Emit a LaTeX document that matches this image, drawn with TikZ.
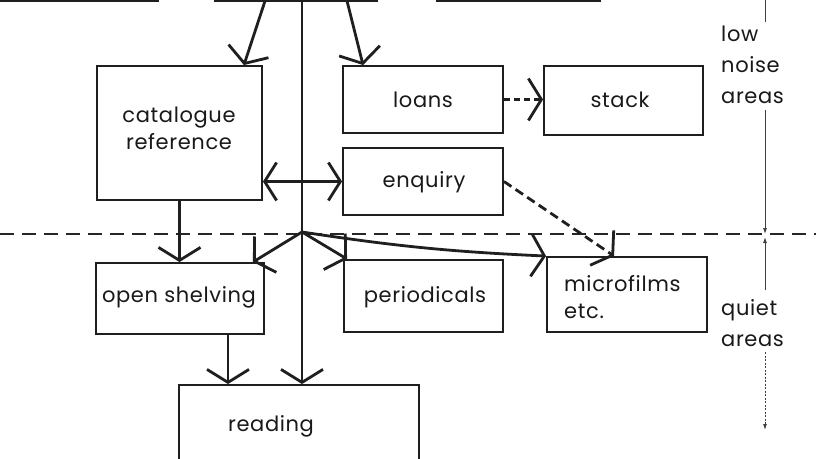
\documentclass[tikz,border=0pt]{standalone}
\usepackage{fontspec}
\setmainfont[LetterSpace=3]{Poppins}
\usetikzlibrary{arrows.meta,calc}

\begin{document}
\begin{tikzpicture}[x=1pt,y=-1pt,
  box/.style={draw=black!88, line width=1.9pt, rectangle, inner sep=0pt},
  lbl/.style={font=\fontsize{21}{27}\selectfont, text=black!90, align=center, inner sep=0pt},
  side/.style={font=\fontsize{21}{31}\selectfont, text=black!90, align=left, inner sep=0pt, anchor=west},
  barb/.style={-{Straight Barb[length=13pt,width=42pt,line width=2.8pt]}},
  flow/.style={line width=2.8pt, draw=black!88, barb},
  flow2/.style={line width=2.8pt, draw=black!88,
    {Straight Barb[length=12pt,width=38pt,line width=2.8pt]}-{Straight Barb[length=12pt,width=38pt,line width=2.8pt]}},
  dflow/.style={flow, dash pattern=on 9pt off 5pt},
  divider/.style={line width=1.3pt, draw=black!85, dash pattern=on 14pt off 8pt},
  dim/.style={line width=0.9pt, draw=black!75, -{Latex[length=6pt,width=4pt]}},
  dimplain/.style={line width=0.9pt, draw=black!75}
]
\useasboundingbox (0,0) rectangle (816,458);
\fill[white] (0,0) rectangle (816,458);
\clip (0,0) rectangle (816,458);

% boxes along the top edge
\node[box, minimum width=200pt, minimum height=60pt] (topL) at (58,-29) {};
\node[box, minimum width=162pt, minimum height=60pt] (topM) at (296,-29) {};
\node[box, minimum width=163pt, minimum height=60pt] (topR) at (518.5,-29) {};

% low noise areas
\node[box, minimum width=165pt, minimum height=134pt] (cat) at (179.5,133) {};
\node[box, minimum width=160pt, minimum height=67pt] (loans) at (423,99.5) {};
\node[box, minimum width=159pt, minimum height=69pt] (stack) at (623.5,100.5) {};
\node[box, minimum width=160pt, minimum height=67pt] (enq) at (423,181.5) {};

% quiet areas
\node[box, minimum width=168pt, minimum height=71pt] (open) at (180,298.5) {};
\node[box, minimum width=159pt, minimum height=72pt] (per) at (423.5,296) {};
\node[box, minimum width=160pt, minimum height=75pt] (mic) at (627,294.5) {};
\node[box, minimum width=240pt, minimum height=95pt] (read) at (299,432.5) {};

% box labels
\node[lbl] (tcat) at (179,128) {catalogue\\reference};
\node[lbl] (tloans) at (423,100) {loans};
\node[lbl] (tstack) at (620,100) {stack};
\node[lbl] (tenq) at (424,182) {enquiry};
\node[lbl] (topen) at (179,297) {open shelving};
\node[lbl] (tper) at (425,297) {periodicals};
\node[lbl, align=left, anchor=west] (tmic) at (564,297) {microfilms\\etc.};
\node[lbl] (tread) at (271,426) {reading};

% zone labels
\node[side] (lowlbl) at (721,65) {low\\noise\\areas};
\node[side] (quietlbl) at (721,323) {quiet\\areas};

% zone divider
\draw[divider] (0,234) -- (816,234);

% flows from the entrance box
\coordinate (tm1) at (265,1);
\coordinate (tm2) at (347,1);
\coordinate (spine) at (302,1);
\coordinate (hub) at (302,232);
\draw[flow] (tm1) -- ($(cat.north east)+(-19,0)$);
\draw[flow] (tm2) -- ($(loans.north west)+(21,0)$);
\draw[flow] (spine) -- (spine |- read.north);

\draw[flow2] (cat.east |- enq.west) -- (enq.west);
\draw[dflow, dash pattern=on 6pt off 4pt] (loans.east) -- (loans.east -| stack.west);
\draw[dflow] (enq.east) -- ($(mic.north west)+(68,0)$);

\draw[flow] (cat.south) -- (cat.south |- open.north);
\draw[flow] ($(open.south)+(48,0)$) coordinate (os) -- (os |- read.north);

\draw[flow] (hub) -- ($(open.north east)+(-12,0)$);
\draw[flow] (hub) -- ($(per.north west)+(4,0)$);
\draw[flow] (hub) to[bend right=3] (mic.north west);

% zone extent markers
\coordinate (dtop) at (765,0);
\coordinate (dlow) at (765,22);
\coordinate (dnoise) at (765,110);
\coordinate (ddiv) at (765,234);
\coordinate (dq1) at (765,290);
\coordinate (dq2) at (765,352);
\coordinate (dend) at (765,430);
\draw[dimplain] (dtop) -- (dlow);
\draw[dim] (dnoise) -- (ddiv);
\draw[dim] (dq1) -- ($(ddiv)+(0,3)$);
\draw[dim, dash pattern=on 2pt off 1.5pt] (dq2) -- (dend);
\end{tikzpicture}
\end{document}
